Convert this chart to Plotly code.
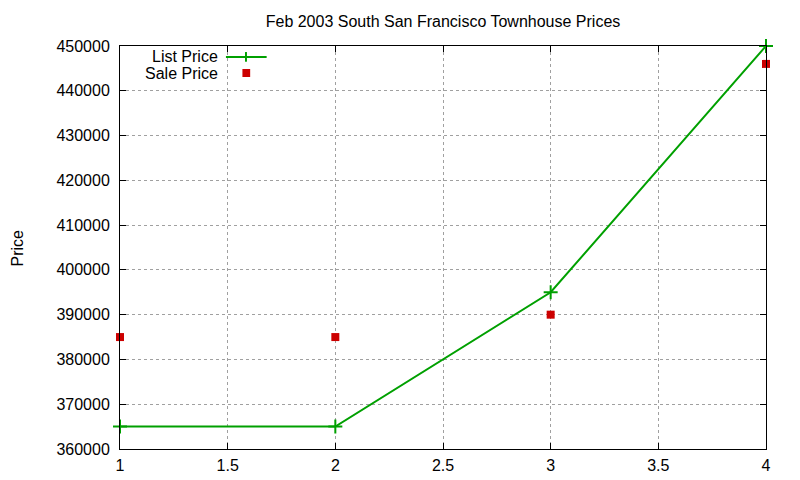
import plotly.graph_objects as go

# townhouse listings, Feb 2003
houses = [1, 2, 3, 4]
list_price = [365000, 365000, 395000, 450000]
sale_price = [385000, 385000, 390000, 446000]

green = "#00a000"
red = "#cc0000"

fig = go.Figure()
fig.add_trace(
    go.Scatter(
        x=houses,
        y=list_price,
        mode="lines+markers",
        name="List Price",
        line=dict(color=green, width=2),
        marker=dict(symbol="cross-thin", size=10, line=dict(color=green, width=2)),
        cliponaxis=False,
    )
)
fig.add_trace(
    go.Scatter(
        x=houses,
        y=sale_price,
        mode="markers",
        name="Sale Price",
        marker=dict(symbol="square", size=8, color=red),
        cliponaxis=False,
    )
)

axis_style = dict(
    showline=True,
    linecolor="black",
    linewidth=1,
    mirror="allticks",
    ticks="inside",
    ticklen=6,
    tickcolor="black",
    showgrid=True,
    gridcolor="#a0a0a0",
    griddash="dot",
    gridwidth=1,
    zeroline=False,
    automargin=False,
    tickfont=dict(size=16, color="black"),
)

fig.update_xaxes(range=[1, 4], dtick=0.5, ticklabelstandoff=2, **axis_style)
fig.update_yaxes(
    range=[360000, 450000],
    dtick=10000,
    tickformat="d",
    ticklabelstandoff=6,
    **axis_style,
)

# y axis label placed by hand (gnuplot puts it further out)
fig.add_annotation(
    xref="paper", yref="paper", x=-0.158, y=0.5, text="Price", textangle=-90,
    showarrow=False, xanchor="center", yanchor="middle",
    font=dict(size=16, color="black"),
)

# gnuplot-style key: label on the left, sample on the right
fig.add_annotation(
    xref="paper", yref="paper", x=0.1545, y=0.973, text="List Price",
    showarrow=False, xanchor="right", yanchor="middle",
    font=dict(size=16, color="black"),
)
fig.add_annotation(
    xref="paper", yref="paper", x=0.1545, y=0.933, text="Sale Price",
    showarrow=False, xanchor="right", yanchor="middle",
    font=dict(size=16, color="black"),
)
fig.add_shape(type="line", xref="paper", yref="paper", x0=0.164, x1=0.227,
              y0=0.973, y1=0.973, line=dict(color=green, width=2))
fig.add_shape(type="line", xref="paper", yref="paper", x0=0.195, x1=0.195,
              y0=0.961, y1=0.985, line=dict(color=green, width=2))
fig.add_shape(type="rect", xref="paper", yref="paper", x0=0.1895, x1=0.2015,
              y0=0.923, y1=0.943, line=dict(width=0), fillcolor=red)

# page renders with ~7px offset, so margins are shifted to compensate
fig.update_layout(
    width=800,
    height=480,
    margin=dict(l=112, r=42, t=38, b=39),
    title=dict(
        text="Feb 2003 South San Francisco Townhouse Prices",
        xref="paper", x=0.5, xanchor="center", y=0.973, yanchor="middle",
        font=dict(size=16, color="black"),
    ),
    font=dict(family="Liberation Sans, Arial, sans-serif"),
    showlegend=False,
    plot_bgcolor="white",
    paper_bgcolor="white",
)

fig.write_html("out.html")
